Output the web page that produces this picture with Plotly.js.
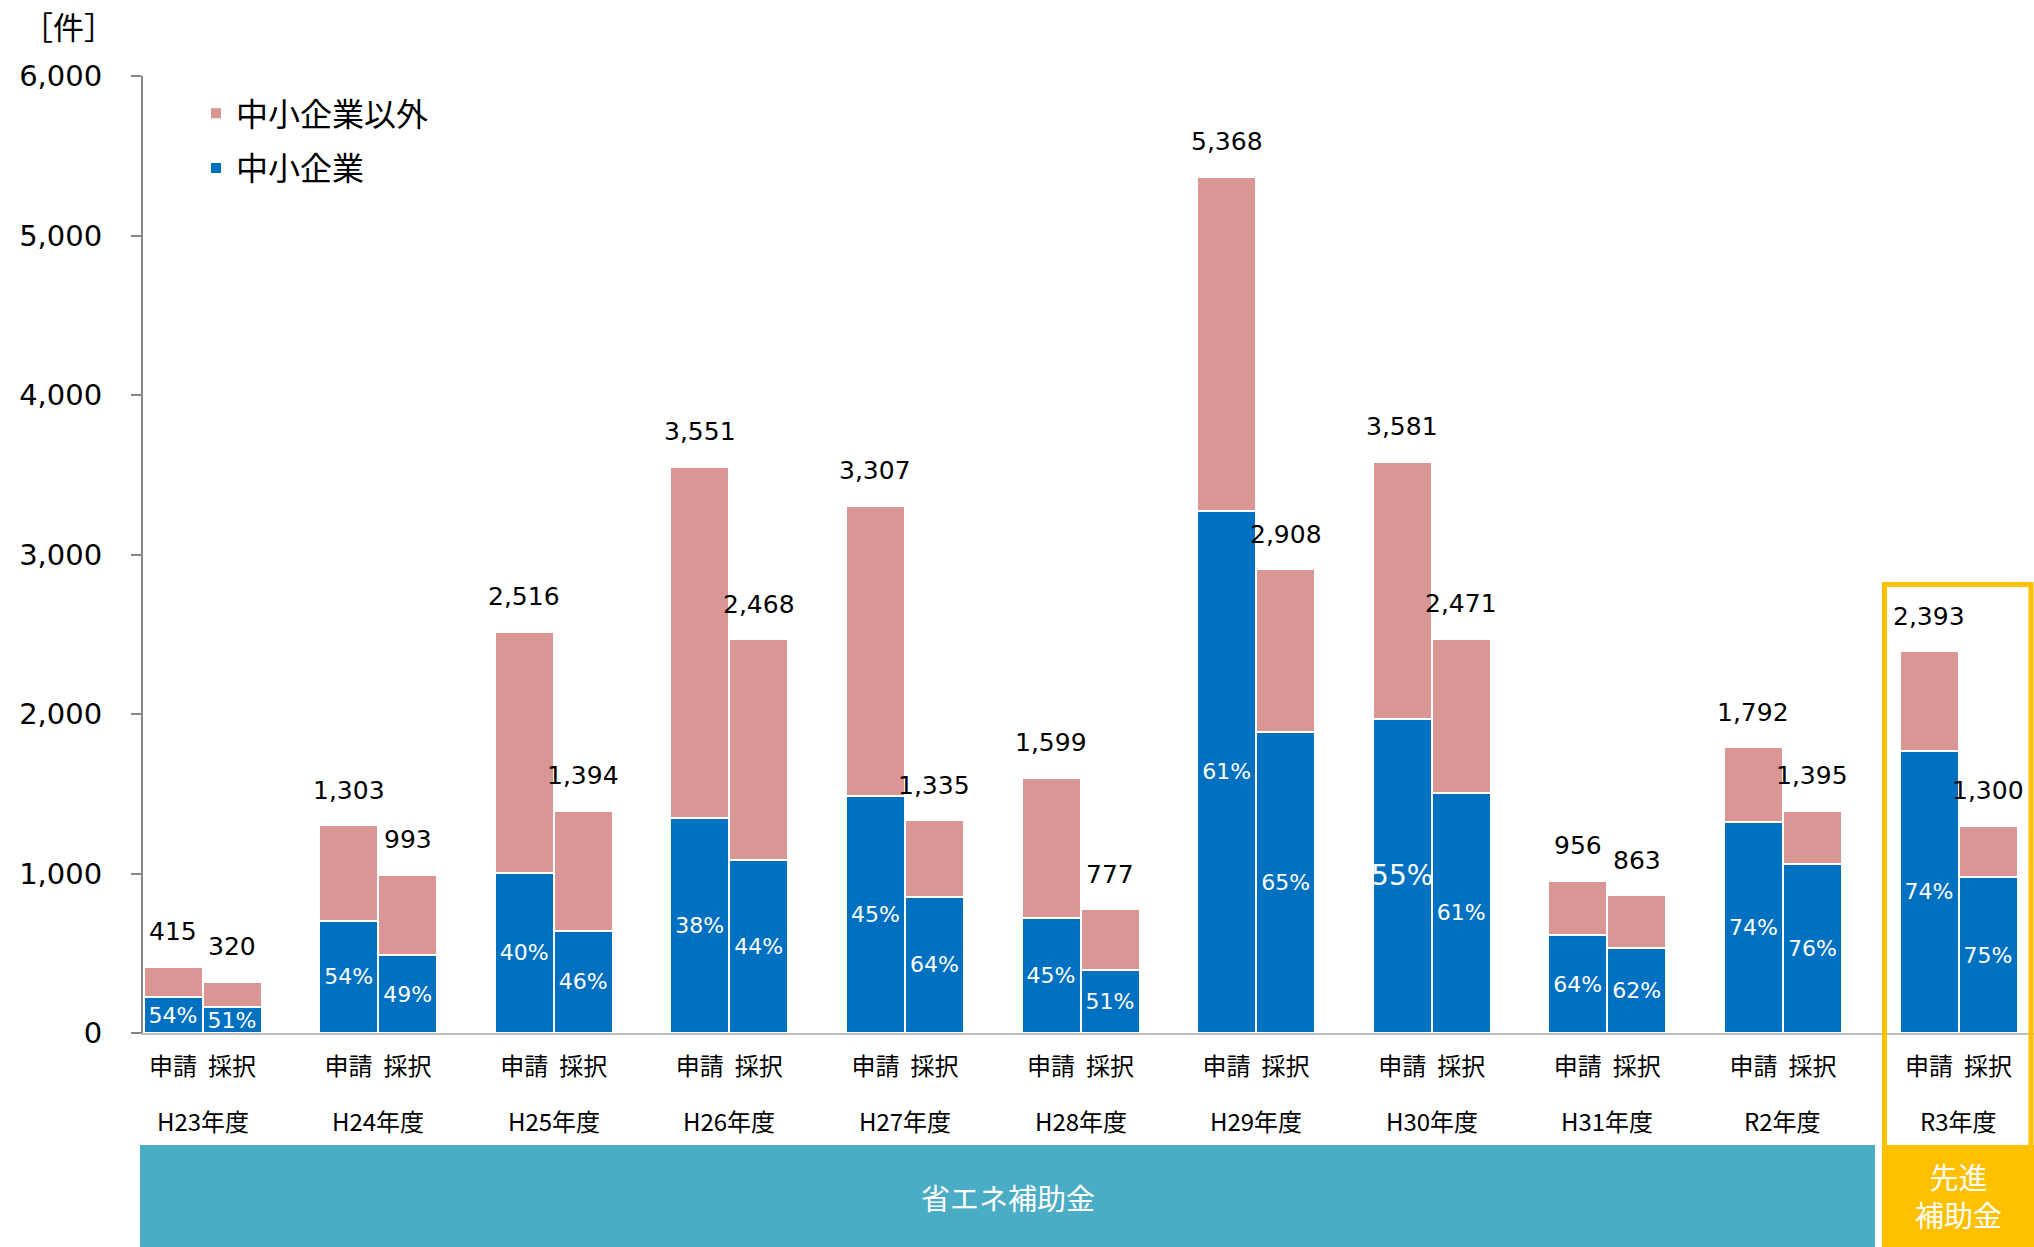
<!DOCTYPE html>
<html>
<head>
<meta charset="utf-8">
<script src="https://cdn.plot.ly/plotly-3.0.1.min.js"></script>
<style>
  html, body { margin: 0; padding: 0; background: #ffffff; }
  #chart { width: 2034px; height: 1247px; }
</style>
</head>
<body>
<div id="chart"></div>
<script>
// ---- data ----
const years = ['H23年度', 'H24年度', 'H25年度', 'H26年度', 'H27年度', 'H28年度', 'H29年度', 'H30年度', 'H31年度', 'R2年度', 'R3年度'];
const kinds = ['申請', '採択'];
const appTotal = [415, 1303, 2516, 3551, 3307, 1599, 5368, 3581, 956, 1792, 2393];
const adoTotal = [320, 993, 1394, 2468, 1335, 777, 2908, 2471, 863, 1395, 1300];
const appPct = [54, 54, 40, 38, 45, 45, 61, 55, 64, 74, 74];
const adoPct = [51, 49, 46, 44, 64, 51, 65, 61, 62, 76, 75];
const appSme = [224, 704, 1006, 1349, 1488, 720, 3274, 1970, 612, 1326, 1771];
const adoSme = [163, 487, 641, 1086, 854, 396, 1890, 1507, 535, 1060, 975];
const bandMain = '省エネ補助金';
const bandNew = '先進<br>補助金';
const unitLabel = '［件］';
const legendNames = ['中小企業', '中小企業以外'];

// ---- styling ----
const NUM_FONT = 'DejaVu Sans, Verdana, sans-serif';
const JP_FONT = 'Noto Sans CJK JP, Noto Sans, sans-serif';
const BLUE = '#0070C0', PINK = '#D99694', TEAL = '#4BACC6', GOLD = '#FFC000';

const W = 2034, H = 1247;
const L = 143, R = 0, T = 76, B = 214;
const PW = W - L - R, PH = H - T - B;
const PX = v => (v - L) / PW;          // pixel -> paper x
const PY = v => (H - B - v) / PH;      // pixel -> paper y

const OFF = 0.168, BW = 0.336;

// build per-bar arrays
const xs = [], sme = [], other = [], totals = [], pctText = [], pctSize = [], tickText = [];
years.forEach((y, i) => {
  [[appTotal, appSme, appPct], [adoTotal, adoSme, adoPct]].forEach((set, j) => {
    xs.push(i + (j === 0 ? -OFF : OFF));
    totals.push(set[0][i]);
    sme.push(set[1][i]);
    other.push(set[0][i] - set[1][i]);
    pctText.push(set[2][i] + '%');
    pctSize.push((i === 7 && j === 0) ? 28 : 22);
    tickText.push(kinds[j]);
  });
});

const traces = [
  {
    type: 'bar', name: legendNames[0], x: xs, y: sme, width: BW,
    marker: { color: BLUE, line: { color: '#ffffff', width: 2 } },
    text: pctText, textposition: 'inside', insidetextanchor: 'middle', textangle: 0,
    constraintext: 'none', cliponaxis: false,
    textfont: { family: NUM_FONT, size: pctSize, color: '#ffffff' },
    legendgroup: 'a', legendrank: 2, hoverinfo: 'x+y'
  },
  {
    type: 'bar', name: legendNames[1], x: xs, y: other, width: BW,
    marker: { color: PINK, line: { color: '#ffffff', width: 2 } },
    legendgroup: 'b', legendrank: 1, hoverinfo: 'x+y'
  }
];

const annotations = [];
xs.forEach((x, k) => {
  annotations.push({
    x: x, y: totals[k], xref: 'x', yref: 'y', text: totals[k].toLocaleString('en-US'),
    showarrow: false, yanchor: 'middle', xanchor: 'center', yshift: 35,
    font: { family: NUM_FONT, size: 25, color: '#000000' }
  });
});
years.forEach((y, i) => {
  annotations.push({
    x: i, y: PY(1120), xref: 'x', yref: 'paper', text: y, showarrow: false,
    yanchor: 'middle', xanchor: 'center',
    font: { family: JP_FONT, size: 24, color: '#000000' }
  });
});
annotations.push({
  x: PX(68), y: PY(25), xref: 'paper', yref: 'paper', text: unitLabel, showarrow: false,
  xanchor: 'center', yanchor: 'middle', font: { family: JP_FONT, size: 31, color: '#000000' }
});
annotations.push({
  x: PX((140 + 1875) / 2), y: PY(1197), xref: 'paper', yref: 'paper', text: bandMain, showarrow: false,
  xanchor: 'center', yanchor: 'middle', font: { family: JP_FONT, size: 29, color: '#ffffff' }
});
annotations.push({
  x: PX((1882 + 2034) / 2), y: PY(1195), xref: 'paper', yref: 'paper', text: bandNew, showarrow: false,
  xanchor: 'center', yanchor: 'middle', font: { family: JP_FONT, size: 29, color: '#ffffff' }
});

const shapes = [
  { type: 'rect', xref: 'paper', yref: 'paper', x0: PX(140), x1: PX(1875), y0: PY(1260), y1: PY(1145),
    fillcolor: TEAL, line: { width: 0 }, layer: 'above' },
  { type: 'rect', xref: 'paper', yref: 'paper', x0: PX(1882), x1: PX(2034), y0: PY(1260), y1: PY(1145),
    fillcolor: GOLD, line: { width: 0 }, layer: 'above' },
  { type: 'rect', xref: 'paper', yref: 'paper', x0: PX(1884.5), x1: PX(2031), y0: PY(1260), y1: PY(584.5),
    fillcolor: 'rgba(0,0,0,0)', line: { color: GOLD, width: 5 }, layer: 'above' }
];

const layout = {
  width: W, height: H,
  margin: { l: L, r: R, t: T, b: B, pad: 0 },
  paper_bgcolor: '#ffffff', plot_bgcolor: 'rgba(0,0,0,0)',
  barmode: 'stack', bargap: 0,
  font: { family: JP_FONT, color: '#000000' },
  showlegend: true,
  legend: {
    x: PX(196), y: PY(86), xanchor: 'left', yanchor: 'top',
    traceorder: 'grouped', tracegroupgap: 10,
    font: { family: JP_FONT, size: 32, color: '#000000' },
    bgcolor: 'rgba(0,0,0,0)', borderwidth: 0
  },
  xaxis: {
    range: [(L - 202.5) / 175.6, (W - R - 202.5) / 175.6],
    tickvals: xs, ticktext: tickText, ticks: '', ticklabelstandoff: 11,
    tickfont: { family: JP_FONT, size: 24, color: '#000000' },
    showline: true, linecolor: '#BFBFBF', linewidth: 2,
    showgrid: false, zeroline: false, fixedrange: true
  },
  yaxis: {
    range: [0, 6000], dtick: 1000, tick0: 0, tickformat: ',',
    ticks: 'outside', ticklen: 10, tickwidth: 2, tickcolor: '#868686',
    ticklabelstandoff: 23,
    tickfont: { family: NUM_FONT, size: 29, color: '#000000' },
    showline: true, linecolor: '#868686', linewidth: 2,
    showgrid: false, zeroline: false, fixedrange: true
  },
  annotations: annotations,
  shapes: shapes
};

Plotly.newPlot('chart', traces, layout, { staticPlot: true, displayModeBar: false });
</script>
</body>
</html>
